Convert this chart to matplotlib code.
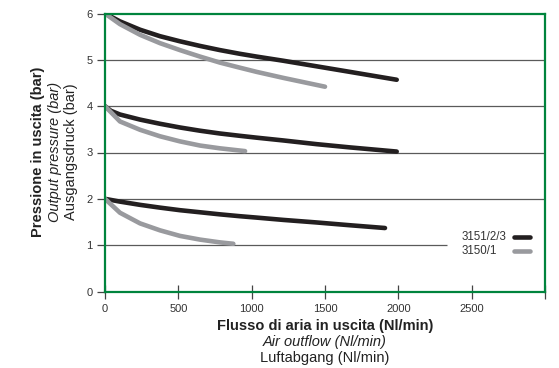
import matplotlib
matplotlib.use("Agg")
import matplotlib.pyplot as plt
from matplotlib.lines import Line2D

plt.rcParams['font.family'] = ['Liberation Sans', 'DejaVu Sans']

# Flow (Nl/min) and output pressure (bar) for each regulator family
flow_3151_6 = [0, 102, 239, 375, 511, 648, 784, 920, 1034, 1216, 1443, 1670, 1989]
bar_3151_6 = [6.00, 5.83, 5.65, 5.51, 5.40, 5.30, 5.21, 5.13, 5.07, 4.98, 4.86, 4.74, 4.57]
flow_3150_6 = [0, 102, 239, 375, 511, 648, 784, 920, 1034, 1216, 1500]
bar_3150_6 = [6.00, 5.77, 5.54, 5.36, 5.21, 5.07, 4.94, 4.83, 4.74, 4.61, 4.42]

flow_3151_4 = [0, 40, 102, 239, 375, 511, 648, 784, 920, 1034, 1216, 1443, 1670, 1989]
bar_3151_4 = [4.00, 3.90, 3.82, 3.71, 3.62, 3.54, 3.47, 3.41, 3.36, 3.32, 3.26, 3.18, 3.11, 3.02]
flow_3150_4 = [0, 102, 239, 375, 511, 648, 784, 955]
bar_3150_4 = [4.00, 3.67, 3.49, 3.35, 3.24, 3.15, 3.09, 3.03]

flow_3151_2 = [0, 102, 239, 375, 511, 648, 784, 920, 1034, 1216, 1443, 1670, 1909]
bar_3151_2 = [2.00, 1.94, 1.87, 1.81, 1.755, 1.71, 1.665, 1.625, 1.595, 1.545, 1.49, 1.43, 1.37]
flow_3150_2 = [0, 102, 239, 375, 511, 648, 784, 875]
bar_3150_2 = [2.00, 1.70, 1.47, 1.32, 1.20, 1.12, 1.06, 1.03]

series_labels = ['3151/2/3', '3150/1']
x_ticks = [0, 500, 1000, 1500, 2000, 2500, 3000]
x_tick_labels = ['0', '500', '1000', '1500', '2000', '2500', '']
y_ticks = [0, 1, 2, 3, 4, 5, 6]
grid_levels = [1, 2, 3, 4, 5]
grid_ends = [2330, 3000, 3000, 3000, 3000]

BLACK = '#231f20'
GREY = '#999a9e'
GREEN = '#00843d'
W, H = 559, 368

fig = plt.figure(figsize=(W / 100, H / 100), dpi=100)
ax = fig.add_axes([105 / W, 1 - 291.5 / H, 440 / W, 278 / H])

ax.hlines(grid_levels, 0, grid_ends, colors='#5a5a5a', linewidth=0.9, zorder=1)

lw = 3.3
kw = dict(linewidth=lw, solid_capstyle='round', solid_joinstyle='round', zorder=3)
ax.plot(flow_3151_6, bar_3151_6, color=BLACK, **kw)
ax.plot(flow_3151_4, bar_3151_4, color=BLACK, **kw)
ax.plot(flow_3151_2, bar_3151_2, color=BLACK, **kw)
ax.plot(flow_3150_6, bar_3150_6, color=GREY, **kw)
ax.plot(flow_3150_4, bar_3150_4, color=GREY, **kw)
ax.plot(flow_3150_2, bar_3150_2, color=GREY, **kw)

ax.set_xlim(0, 3000)
ax.set_ylim(0, 6)
ax.set_xticks(x_ticks)
ax.set_xticklabels(x_tick_labels)
ax.set_yticks(y_ticks)
ax.tick_params(axis='x', direction='inout', length=10, width=0.9, color='#444444',
               labelsize=8, labelcolor='#333333', pad=4)
ax.tick_params(axis='y', direction='out', length=6, width=0.9, color='#444444',
               labelsize=8, labelcolor='#333333', pad=3)
for s in ax.spines.values():
    s.set_color(GREEN)
    s.set_linewidth(1.6)
    s.set_zorder(4)

# key: left-aligned labels followed by a short swatch of each line style
key_rows = [237, 251]
for label, color, yrow in zip(series_labels, [BLACK, GREY], key_rows):
    yf = 1 - yrow / H
    fig.text(462 / W, yf, label, ha='left', va='center', fontsize=8.3, color='#333333')
    fig.add_artist(Line2D([514 / W, 530 / W], [yf, yf], color=color, linewidth=lw,
                          solid_capstyle='round', transform=fig.transFigure))

# axis titles in three languages
cx = 325 / W
fs = 10.5
fig.text(cx, 1 - 326 / H, 'Flusso di aria in uscita (Nl/min)', ha='center', va='center',
         fontsize=fs, fontweight='bold', color='#222222')
fig.text(cx, 1 - 342 / H, 'Air outflow (Nl/min)', ha='center', va='center',
         fontsize=fs, fontstyle='italic', color='#222222')
fig.text(cx, 1 - 358 / H, 'Luftabgang (Nl/min)', ha='center', va='center',
         fontsize=fs, color='#222222')

cy = 1 - 152 / H
fig.text(38 / W, cy, 'Pressione in uscita (bar)', ha='center', va='center', rotation=90,
         fontsize=fs, fontweight='bold', color='#222222')
fig.text(55 / W, cy, 'Output pressure (bar)', ha='center', va='center', rotation=90,
         fontsize=fs, fontstyle='italic', color='#222222')
fig.text(71 / W, cy, 'Ausgangsdruck (bar)', ha='center', va='center', rotation=90,
         fontsize=fs, color='#222222')

fig.savefig('out.png', dpi=100)
